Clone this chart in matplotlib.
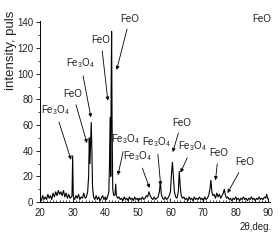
import matplotlib
matplotlib.use('Agg')
import matplotlib.pyplot as plt
from matplotlib.ticker import MultipleLocator

plt.rcParams['font.family'] = ['Liberation Sans', 'DejaVu Sans']
plt.rcParams['mathtext.default'] = 'regular'

# diffraction pattern
two_theta = [20.0, 20.4, 20.8, 21.2, 21.6, 22.0, 22.4, 22.8, 23.2, 23.6, 24.0, 24.4, 24.8,
             25.2, 25.6, 26.0, 26.4, 26.8, 27.2, 27.6, 28.0, 28.4, 28.8, 29.2, 29.6,
             29.8, 30.0, 30.2,
             30.6, 31.0, 31.4, 31.8, 32.2, 32.6, 33.0, 33.4, 33.8, 34.2, 34.6,
             34.9, 35.1, 35.3, 35.5, 35.7, 35.9, 36.1, 36.4,
             36.8, 37.2, 37.6, 38.0, 38.4, 38.8, 39.2, 39.6, 40.0, 40.4, 40.8, 41.1,
             41.3, 41.5, 41.7, 41.8, 41.95, 42.1, 42.3, 42.6,
             43.0, 43.2, 43.4, 43.8, 44.2, 44.6, 45.0, 45.4, 45.8, 46.2, 46.6, 47.0,
             47.4, 47.8, 48.2, 48.6, 49.0, 49.4, 49.8, 50.2, 50.6, 51.0, 51.4, 51.8,
             52.2, 52.6, 53.0, 53.4, 53.8, 54.2, 54.6, 55.0, 55.4, 55.8, 56.2,
             56.6, 56.9, 57.2, 57.6, 58.0, 58.4, 58.8, 59.2, 59.6, 60.0,
             60.3, 60.6, 60.9, 61.2, 61.6, 62.0, 62.4, 62.7, 63.0, 63.3, 63.7, 64.1,
             64.5, 64.9, 65.3, 65.7, 66.1, 66.5, 66.9, 67.3, 67.7, 68.1, 68.5, 68.9,
             69.3, 69.7, 70.1, 70.5, 70.9, 71.3, 71.7,
             72.1, 72.4, 72.7, 73.0, 73.4, 73.8, 74.2, 74.6, 75.0, 75.4, 75.8, 76.2,
             76.5, 76.8, 77.2, 77.6, 78.0, 78.4, 78.8, 79.2, 79.6, 80.0, 80.4, 80.8,
             81.2, 81.6, 82.0, 82.4, 82.8, 83.2, 83.6, 84.0, 84.4, 84.8, 85.2, 85.6,
             86.0, 86.4, 86.8, 87.2, 87.6, 88.0, 88.4, 88.8, 89.2, 89.5, 89.8, 90.0]
intensity = [3, 1, 5, 2, 4, 2, 6, 3, 5, 2, 7, 4, 8,
             5, 9, 6, 8, 5, 9, 4, 7, 3, 6, 3, 4,
             5, 36, 4,
             2, 5, 3, 6, 2, 4, 3, 7, 3, 4, 8,
             20, 50, 30, 45, 62, 40, 12, 4,
             2, 5, 2, 4, 1, 3, 5, 2, 4, 2, 5, 8,
             30, 66, 20, 87, 133, 60, 10, 5,
             6, 14, 5, 3, 4, 2, 3, 1, 4, 2, 3, 1,
             4, 2, 3, 1, 4, 2, 3, 1, 3, 2, 4, 2,
             3, 5, 4, 8, 5, 3, 2, 4, 2, 3, 4,
             8, 16, 6, 3, 2, 4, 2, 3, 5, 8,
             22, 31, 20, 8, 4, 3, 8, 24, 12, 5, 3, 4,
             2, 3, 1, 4, 2, 3, 1, 4, 2, 3, 2, 4,
             2, 3, 1, 4, 2, 3, 5,
             10, 17, 8, 5, 6, 3, 7, 4, 6, 3, 5, 7,
             10, 6, 3, 4, 2, 3, 1, 3, 2, 4, 2, 3,
             1, 3, 2, 4, 2, 3, 1, 3, 2, 4, 2, 3,
             1, 3, 2, 4, 2, 3, 2, 4, 3, 6, 3, 2]

# phase labels: text, label position, arrow tip
labels = ['FeO', 'FeO', 'Fe$_3$O$_4$', 'FeO', 'Fe$_3$O$_4$', 'Fe$_3$O$_4$', 'Fe$_3$O$_4$',
          'Fe$_3$O$_4$', 'FeO', 'Fe$_3$O$_4$', 'FeO', 'FeO']
label_x = [47.5, 38.7, 32.5, 30.1, 24.6, 46.3, 50.0, 55.8, 63.4, 66.8, 74.7, 82.7]
label_y = [143, 126, 108, 84, 72, 49, 36, 47, 62, 44, 38, 31]
tip_x = [43.5, 40.8, 35.6, 34.4, 29.5, 43.9, 53.6, 57.0, 60.7, 63.1, 73.8, 77.5]
tip_y = [103, 79, 66, 46, 33, 21, 11, 13, 39, 23, 17, 7]

txt = '#222222'
fig = plt.figure(figsize=(2.8, 2.4), dpi=100)
ax = fig.add_axes([0.143, 0.158, 0.821, 0.754])
ax.plot(two_theta, intensity, color='black', lw=0.8)

for lab, lx, ly, tx, ty in zip(labels, label_x, label_y, tip_x, tip_y):
    ax.annotate(lab, xy=(tx, ty), xytext=(lx, ly), ha='center', va='center',
                fontsize=7, color=txt,
                arrowprops=dict(arrowstyle='-|>', color='black', lw=0.6,
                                mutation_scale=5, shrinkA=2, shrinkB=0))
ax.text(87.9, 143, 'FeO', ha='center', va='center', fontsize=7, color=txt, clip_on=False)

ax.set_xlim(20, 90.5)
ax.set_ylim(0, 141)
ax.spines['top'].set_visible(False)
ax.spines['right'].set_visible(False)
ax.xaxis.set_major_locator(MultipleLocator(10))
ax.xaxis.set_minor_locator(MultipleLocator(1))
ax.yaxis.set_major_locator(MultipleLocator(20))
ax.yaxis.set_minor_locator(MultipleLocator(10))
ax.tick_params(axis='x', which='major', direction='in', length=3, width=0.6,
               labelsize=7, labelcolor=txt, pad=4)
ax.tick_params(axis='x', which='minor', direction='in', length=1.5, width=0.5)
ax.tick_params(axis='y', which='major', direction='out', length=3, width=0.6,
               labelsize=7, labelcolor=txt, pad=2)
ax.tick_params(axis='y', which='minor', direction='out', length=1.5, width=0.5)
for s in ['left', 'bottom']:
    ax.spines[s].set_linewidth(0.7)

ax.set_ylabel('intensity, puls', fontsize=9.5, color=txt,
              family=['Liberation Sans Narrow', 'Liberation Sans', 'DejaVu Sans'])
ax.yaxis.set_label_coords(-0.10, 0.84)
fig.text(272 / 280, 1 - 227 / 240, '2θ,deg.', ha='right', va='center', fontsize=7, color=txt)

fig.savefig('out.png', dpi=100)
